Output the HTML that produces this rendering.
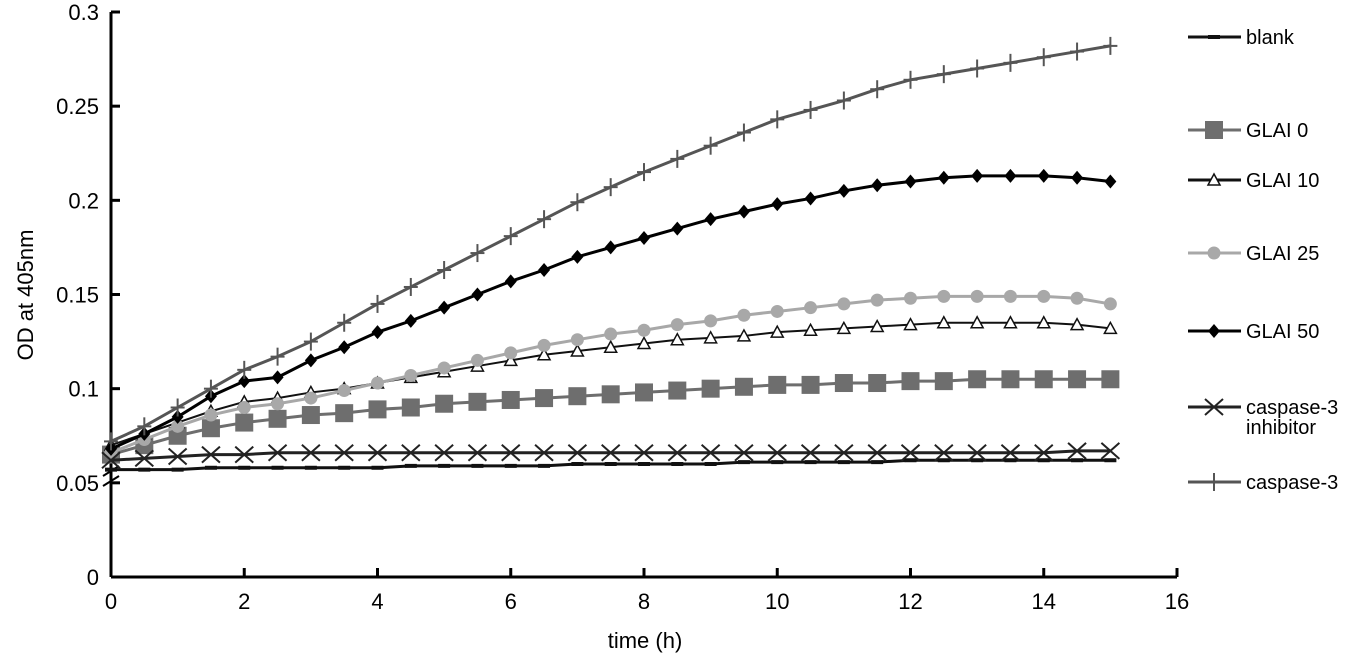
<!DOCTYPE html>
<html><head><meta charset="utf-8"><style>
body{margin:0;background:#fff;}
svg{display:block;font-family:"Liberation Sans",Arial,sans-serif;}
</style></head><body>
<svg id="chart" width="1353" height="663"></svg>
<script>
const times=[0,0.5,1,1.5,2,2.5,3,3.5,4,4.5,5,5.5,6,6.5,7,7.5,8,8.5,9,9.5,10,10.5,11,11.5,12,12.5,13,13.5,14,14.5,15];
const blankVals=[.057,.057,.057,.058,.058,.058,.058,.058,.058,.059,.059,.059,.059,.059,.06,.06,.06,.06,.06,.061,.061,.061,.061,.061,.062,.062,.062,.062,.062,.062,.062];
const glai0Vals=[.065,.07,.075,.079,.082,.084,.086,.087,.089,.09,.092,.093,.094,.095,.096,.097,.098,.099,.1,.101,.102,.102,.103,.103,.104,.104,.105,.105,.105,.105,.105];
const glai10Vals=[.07,.076,.082,.088,.093,.095,.098,.1,.103,.106,.109,.112,.115,.118,.12,.122,.124,.126,.127,.128,.13,.131,.132,.133,.134,.135,.135,.135,.135,.134,.132];
const glai25Vals=[.066,.073,.08,.086,.09,.092,.095,.099,.103,.107,.111,.115,.119,.123,.126,.129,.131,.134,.136,.139,.141,.143,.145,.147,.148,.149,.149,.149,.149,.148,.145];
const glai50Vals=[.068,.076,.085,.096,.104,.106,.115,.122,.13,.136,.143,.15,.157,.163,.17,.175,.18,.185,.19,.194,.198,.201,.205,.208,.21,.212,.213,.213,.213,.212,.21];
const inhibVals=[.062,.063,.064,.065,.065,.066,.066,.066,.066,.066,.066,.066,.066,.066,.066,.066,.066,.066,.066,.066,.066,.066,.066,.066,.066,.066,.066,.066,.066,.067,.067];
const caspVals=[.072,.08,.09,.1,.11,.117,.125,.135,.145,.154,.163,.172,.181,.19,.199,.207,.215,.222,.229,.236,.243,.248,.253,.259,.264,.267,.27,.273,.276,.279,.282];
const yTicks=[0,0.05,0.1,0.15,0.2,0.25,0.3];
const yTickLabels=["0","0.05","0.1","0.15","0.2","0.25","0.3"];
const xTicks=[0,2,4,6,8,10,12,14,16];

const NS="http://www.w3.org/2000/svg";
const svg=document.getElementById('chart');
const X0=111,X1=1177,Y0=577,Y1=12;
const xs=t=>X0+t/16*(X1-X0);
const ys=v=>Y0-v/0.3*(Y0-Y1);
function mk(tag,attrs,parent){const e=document.createElementNS(NS,tag);for(const k in attrs)e.setAttribute(k,attrs[k]);(parent||svg).appendChild(e);return e;}

let e=mk('line',{x1:X0,y1:Y1,x2:X0,y2:Y0,stroke:'#000','stroke-width':3});


e=mk('line',{x1:X0,y1:Y0,x2:X1,y2:Y0,stroke:'#000','stroke-width':3});


yTicks.forEach((v,i)=>{
  const y=ys(v);
  mk('line',{x1:X0,y1:y,x2:X0+9,y2:y,stroke:'#000','stroke-width':3});
  const t=mk('text',{x:X0-12,y:y+8,'text-anchor':'end','font-size':22});
  t.textContent=yTickLabels[i];
  
  
});
xTicks.forEach(v=>{
  const x=xs(v);
  mk('line',{x1:x,y1:Y0,x2:x,y2:Y0-9,stroke:'#000','stroke-width':3});
  const t=mk('text',{x:x,y:Y0+32,'text-anchor':'middle','font-size':22});
  t.textContent=v;
  
  
});
mk('line',{x1:X0-8,y1:476,x2:X0+8,y2:466,stroke:'#000','stroke-width':2});
mk('line',{x1:X0-8,y1:486,x2:X0+8,y2:476,stroke:'#000','stroke-width':2});

e=mk('text',{x:645,y:648,'text-anchor':'middle','font-size':22});
e.textContent='time  (h)';


e=mk('text',{x:0,y:0,'text-anchor':'middle','font-size':22,transform:'translate(33,295) rotate(-90)'});
e.textContent='OD at 405nm';



function marker(type,x,y,color,g){
  if(type==='square')mk('rect',{x:x-9,y:y-9,width:18,height:18,fill:color},g);
  else if(type==='tri')mk('polygon',{points:`${x},${y-6} ${x-6},${y+5} ${x+6},${y+5}`,fill:'#fff',stroke:color,'stroke-width':1.5},g);
  else if(type==='circle')mk('circle',{cx:x,cy:y,r:6.5,fill:color},g);
  else if(type==='diamond')mk('polygon',{points:`${x},${y-7} ${x+6},${y} ${x},${y+7} ${x-6},${y}`,fill:color},g);
  else if(type==='x'){mk('line',{x1:x-9,y1:y-8,x2:x+9,y2:y+8,stroke:color,'stroke-width':2},g);mk('line',{x1:x-9,y1:y+8,x2:x+9,y2:y-8,stroke:color,'stroke-width':2},g);}
  else if(type==='plus'){mk('line',{x1:x,y1:y-9,x2:x,y2:y+9,stroke:color,'stroke-width':2},g);mk('line',{x1:x-7,y1:y,x2:x+7,y2:y,stroke:color,'stroke-width':2},g);}
  else if(type==='dash')mk('line',{x1:x-6,y1:y,x2:x+6,y2:y,stroke:color,'stroke-width':4},g);
}
const series=[
 {name:'blank',vals:blankVals,color:'#111',m:'dash',lw:3,ly:37},
 {name:'GLAI 0',vals:glai0Vals,color:'#6e6e6e',m:'square',lw:3,ly:130},
 {name:'GLAI 10',vals:glai10Vals,color:'#111',m:'tri',lw:2,ly:180},
 {name:'GLAI 25',vals:glai25Vals,color:'#a8a8a8',m:'circle',lw:3,ly:253},
 {name:'GLAI 50',vals:glai50Vals,color:'#000',m:'diamond',lw:3,ly:331},
 {name:'caspase-3 inhibitor',vals:inhibVals,color:'#222',m:'x',lw:3,ly:407},
 {name:'caspase-3',vals:caspVals,color:'#555',m:'plus',lw:3,ly:482}
];
series.forEach(s=>{
  const g=mk('g',{});
  
  
  mk('polyline',{points:times.map((t,i)=>xs(t)+','+ys(s.vals[i])).join(' '),fill:'none',stroke:s.color,'stroke-width':s.lw},g);
  times.forEach((t,i)=>marker(s.m,xs(t),ys(s.vals[i]),s.color,g));
  const lg=mk('g',{});
  
  
  mk('line',{x1:1188,y1:s.ly,x2:1241,y2:s.ly,stroke:s.color,'stroke-width':3},lg);
  marker(s.m,1214,s.ly,s.color,lg);
  if(s.name==='caspase-3 inhibitor'){
    let t=mk('text',{x:1246,y:s.ly+7,'font-size':20},lg);t.textContent='caspase-3';
    t=mk('text',{x:1246,y:s.ly+27,'font-size':20},lg);t.textContent='inhibitor';
  }else{
    const t=mk('text',{x:1246,y:s.ly+7,'font-size':20},lg);t.textContent=s.name;
  }
});
</script>
</body></html>
